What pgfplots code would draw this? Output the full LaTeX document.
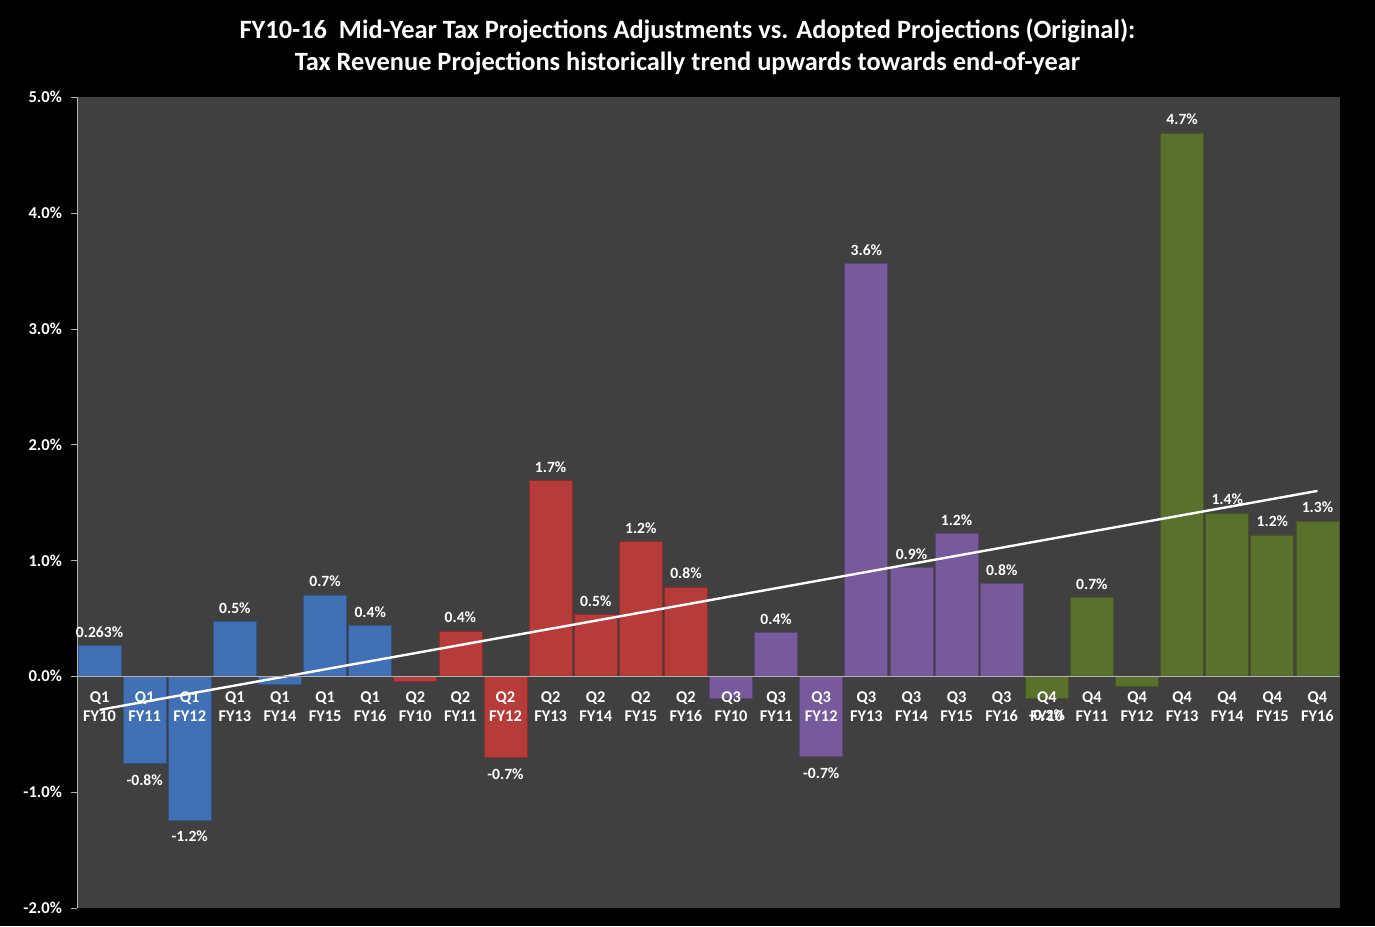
\documentclass[border=0pt]{standalone}
\usepackage{pgfplots}
\pgfplotsset{compat=1.18}
\usepackage{fontspec}
\setmainfont{Carlito}
\definecolor{plotbg}{RGB}{64,64,64}
\definecolor{cblue}{RGB}{66,112,180}
\definecolor{cred}{RGB}{182,60,58}
\definecolor{cpurple}{RGB}{118,90,156}
\definecolor{cgreen}{RGB}{90,113,46}
\pgfplotsset{
  negbar/.style={every node near coord/.append style={anchor=north, yshift=-2pt}},
  posbar/.style={every node near coord/.append style={anchor=south, yshift=0.5pt}},
}
\begin{document}
\begin{tikzpicture}
\path[use as bounding box, fill=black] (-38.5pt,-9pt) rectangle (649pt,454pt);
\node[text=white, font=\fontsize{13.2}{15}\selectfont\bfseries, anchor=center] at (305.25pt,438.5pt) {FY10-16\ \ Mid-Year Tax Projections Adjustments vs. Adopted Projections (Original):};
\node[text=white, font=\fontsize{13.2}{15}\selectfont\bfseries, anchor=center] at (305.25pt,422.5pt) {Tax Revenue Projections historically trend upwards towards end-of-year};
\begin{axis}[
  at={(0pt,0pt)}, anchor=south west,
  scale only axis, width=631.5pt, height=405.5pt,
  xmin=-0.5, xmax=27.5, ymin=-2, ymax=5,
  axis background/.style={fill=plotbg},
  axis x line=middle, axis y line=left,
  axis line style={-, draw=gray!60},
  axis on top,
  ybar, bar width=21.5pt,
  xtick={0,...,27},
  xticklabels={{Q1\\FY10},{Q1\\FY11},{Q1\\FY12},{Q1\\FY13},{Q1\\FY14},{Q1\\FY15},{Q1\\FY16},
               {Q2\\FY10},{Q2\\FY11},{Q2\\FY12},{Q2\\FY13},{Q2\\FY14},{Q2\\FY15},{Q2\\FY16},
               {Q3\\FY10},{Q3\\FY11},{Q3\\FY12},{Q3\\FY13},{Q3\\FY14},{Q3\\FY15},{Q3\\FY16},
               {Q4\\FY10},{Q4\\FY11},{Q4\\FY12},{Q4\\FY13},{Q4\\FY14},{Q4\\FY15},{Q4\\FY16}},
  xticklabel style={align=center, text=white, font=\fontsize{8.2}{9.6}\selectfont\bfseries, yshift=-1pt},
  x tick style={draw=none},
  ytick={-2,-1,0,1,2,3,4,5},
  yticklabel={\pgfmathprintnumber[fixed,fixed zerofill,precision=1,assume math mode=true]{\tick}\%},
  yticklabel style={text=white, font=\fontsize{8.3}{10}\selectfont\bfseries, xshift=-1pt},
  y tick style={draw=gray!60},
  tick align=outside, major tick length=3pt,
  clip=false,
  nodes near coords,
  point meta=explicit symbolic,
  every node near coord/.append style={text=white, font=\fontsize{7.8}{9}\selectfont\bfseries},
]
% Q1
\addplot[fill=cblue, draw=cblue!75!black, bar shift=0pt, posbar] table[meta=lab] {
x y lab
0 0.263 0.263\%
3 0.47 0.5\%
5 0.70 0.7\%
6 0.44 0.4\%
};
\addplot[fill=cblue, draw=cblue!75!black, bar shift=0pt, negbar] table[meta=lab] {
x y lab
1 -0.75 -0.8\%
2 -1.24 -1.2\%
4 -0.07 {}
};
% Q2
\addplot[fill=cred, draw=cred!75!black, bar shift=0pt, posbar] table[meta=lab] {
x y lab
8 0.39 0.4\%
10 1.69 1.7\%
11 0.53 0.5\%
12 1.16 1.2\%
13 0.77 0.8\%
};
\addplot[fill=cred, draw=cred!75!black, bar shift=0pt, negbar] table[meta=lab] {
x y lab
7 -0.04 {}
9 -0.70 -0.7\%
};
% Q3
\addplot[fill=cpurple, draw=cpurple!75!black, bar shift=0pt, posbar] table[meta=lab] {
x y lab
15 0.38 0.4\%
17 3.56 3.6\%
18 0.94 0.9\%
19 1.23 1.2\%
20 0.80 0.8\%
};
\addplot[fill=cpurple, draw=cpurple!75!black, bar shift=0pt, negbar] table[meta=lab] {
x y lab
14 -0.19 {}
16 -0.69 -0.7\%
};
% Q4
\addplot[fill=cgreen, draw=cgreen!75!black, bar shift=0pt, posbar] table[meta=lab] {
x y lab
22 0.68 0.7\%
24 4.69 4.7\%
25 1.41 1.4\%
26 1.22 1.2\%
27 1.34 1.3\%
};
\addplot[fill=cgreen, draw=cgreen!75!black, bar shift=0pt, negbar] table[meta=lab] {
x y lab
21 -0.19 -0.2\%
23 -0.09 {}
};
% trend line
\addplot[white, line width=1.2pt, sharp plot, nodes near coords={}, mark=none] coordinates {(0,-0.29) (27,1.60)};
\end{axis}
\end{tikzpicture}
\end{document}
